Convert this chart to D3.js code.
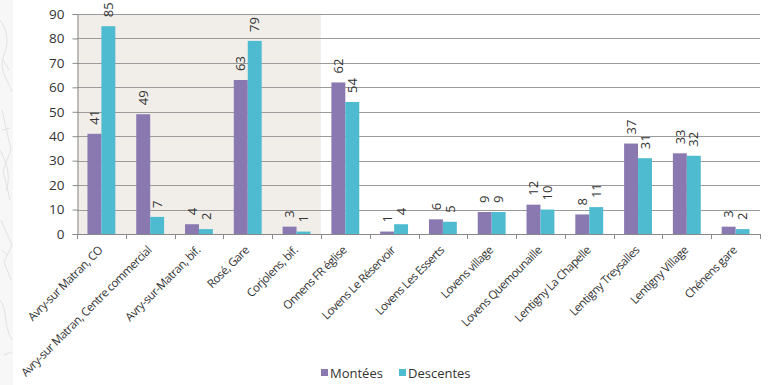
<!DOCTYPE html>
<html>
<head>
<meta charset="utf-8">
<script src="https://cdn.jsdelivr.net/npm/d3@7"></script>
<style>
  html, body { margin: 0; padding: 0; background: #fff; }
  svg { display: block; font-family: "Open Sans", "Noto Sans", sans-serif; }
</style>
</head>
<body>
<svg id="chart" width="775" height="385"></svg>
<script>
// Stops along the line, in order
const categories = [
  "Avry-sur Matran, CO",
  "Avry-sur Matran, Centre commercial",
  "Avry-sur-Matran, bif.",
  "Rosé, Gare",
  "Corjolens, bif.",
  "Onnens FR église",
  "Lovens Le Réservoir",
  "Lovens Les Esserts",
  "Lovens village",
  "Lovens Quemounaille",
  "Lentigny La Chapelle",
  "Lentigny Treysalles",
  "Lentigny Village",
  "Chénens gare"
];
// Passengers boarding / alighting at each stop
const montees   = [41, 49, 4, 63, 3, 62, 1, 6, 9, 12, 8, 37, 33, 3];
const descentes = [85, 7, 2, 79, 1, 54, 4, 5, 9, 10, 11, 31, 32, 2];
const seriesNames = ["Montées", "Descentes"];
const seriesColors = ["#8a78b0", "#4fbbd0"];
const yTicks = [0, 10, 20, 30, 40, 50, 60, 70, 80, 90];
const shadedCount = 5; // first stops sit in the highlighted zone

const svg = d3.select("#chart");
const plotLeft = 77, plotRight = 760, plotTop = 14, plotBottom = 234;

const x = d3.scaleBand().domain(categories).range([plotLeft, plotRight]);
const y = d3.scaleLinear().domain([0, 90]).range([plotBottom, plotTop]);

const bw = x.bandwidth();
const barW = bw / 3.5; // two bars + 150% gap
const x1 = d3.scaleBand().domain(seriesNames)
  .range([(bw - 2 * barW) / 2, (bw + 2 * barW) / 2]);

// faint map strip along the left edge of the page
const strip = svg.append("g").attr("stroke", "#e2e2e2").attr("fill", "none").attr("stroke-width", 1);
strip.append("rect").attr("x", 0).attr("y", 0).attr("width", 13).attr("height", 385)
  .attr("fill", "#f7f7f7").attr("stroke", "none");
[
  "M0,20 C6,28 10,40 4,55 S8,80 12,92",
  "M2,110 L11,150 L3,170 L10,200",
  "M0,150 C5,160 12,175 6,190",
  "M1,220 L12,245 L4,262 L11,280",
  "M0,300 C8,310 3,325 12,340",
  "M3,60 L9,70 M2,130 L10,128 M1,250 L8,255 M4,355 L12,352"
].forEach(d => strip.append("path").attr("d", d));

// highlighted zone behind the first stops
svg.append("rect")
  .attr("x", plotLeft)
  .attr("y", plotTop)
  .attr("width", x(categories[shadedCount]) - plotLeft)
  .attr("height", plotBottom - plotTop)
  .attr("fill", "#f1eeea");

// horizontal gridlines
svg.append("g").selectAll("line").data(yTicks.filter(d => d > 0)).join("line")
  .attr("x1", plotLeft).attr("x2", plotRight)
  .attr("y1", d => Math.round(y(d)) + 0.5).attr("y2", d => Math.round(y(d)) + 0.5)
  .attr("stroke", "#9a9a9a").attr("stroke-width", 1);

// y axis
const yAxis = svg.append("g")
  .attr("transform", `translate(${plotLeft + 0.5},0)`)
  .call(d3.axisLeft(y).tickValues(yTicks).tickSize(5).tickPadding(8));
yAxis.select(".domain").attr("stroke", "#8a8a8a");
yAxis.selectAll(".tick line").attr("stroke", "#8a8a8a");
yAxis.selectAll(".tick text").attr("font-size", 13.5).attr("fill", "#333")
  .attr("font-family", "'Open Sans', sans-serif");

// bars
const series = [montees, descentes];
const groups = svg.append("g");
series.forEach((vals, si) => {
  const g = groups.append("g");
  g.selectAll("rect").data(vals).join("rect")
    .attr("x", (d, i) => x(categories[i]) + x1(seriesNames[si]))
    .attr("y", d => y(d))
    .attr("width", barW)
    .attr("height", d => plotBottom - y(d))
    .attr("fill", seriesColors[si]);
  // value labels, rotated, above each bar
  g.selectAll("text").data(vals).join("text")
    .attr("transform", (d, i) => {
      const cx = x(categories[i]) + x1(seriesNames[si]) + barW / 2;
      return `translate(${cx},${y(d) - 9}) rotate(-90)`;
    })
    .attr("dy", "0.36em")
    .attr("font-size", 13)
    .attr("fill", "#333")
    .text(d => d);
});

// x axis baseline and category separators
const xAxisG = svg.append("g");
xAxisG.append("line")
  .attr("x1", plotLeft).attr("x2", plotRight)
  .attr("y1", plotBottom + 0.5).attr("y2", plotBottom + 0.5)
  .attr("stroke", "#8a8a8a");
const sepPositions = categories.map(c => x(c)).concat([plotRight]);
xAxisG.selectAll("line.sep").data(sepPositions).join("line")
  .attr("class", "sep")
  .attr("x1", d => Math.round(d) + 0.5).attr("x2", d => Math.round(d) + 0.5)
  .attr("y1", plotBottom).attr("y2", plotBottom + 5)
  .attr("stroke", "#8a8a8a");

// category labels, slanted
xAxisG.selectAll("text").data(categories).join("text")
  .attr("transform", d => `translate(${x(d) + bw / 2 + 2},${plotBottom + 17}) rotate(-45)`)
  .attr("text-anchor", "end")
  .attr("font-size", 11.6)
  .attr("letter-spacing", -0.5)
  .attr("fill", "#333")
  .text(d => d);

// legend
const legend = svg.append("g").attr("transform", "translate(321,378)");
const items = [{ name: seriesNames[0], x: 0 }, { name: seriesNames[1], x: 78 }];
items.forEach((it, i) => {
  legend.append("rect").attr("x", it.x).attr("y", -9).attr("width", 7).attr("height", 7)
    .attr("fill", seriesColors[i]);
  legend.append("text").attr("x", it.x + 9).attr("y", 0)
    .attr("font-size", 13).attr("fill", "#333").text(it.name);
});
</script>
</body>
</html>
